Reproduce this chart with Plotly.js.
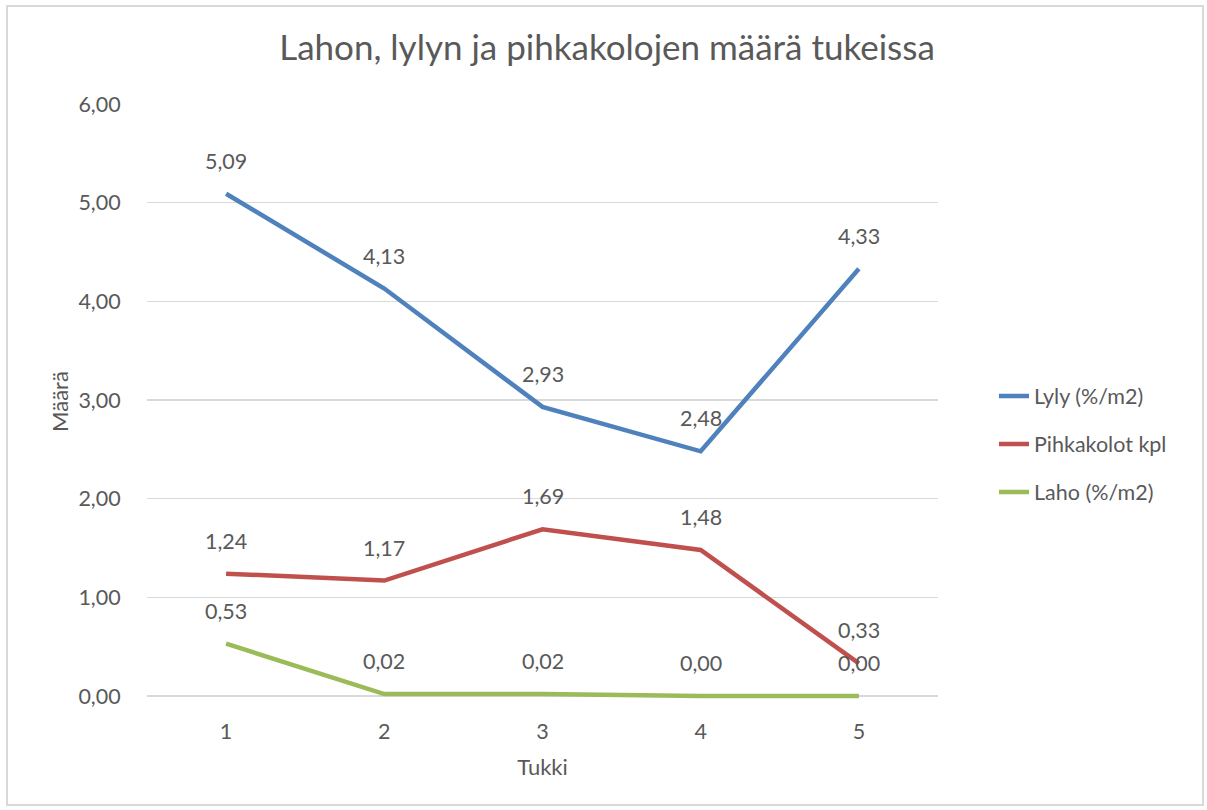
<!DOCTYPE html>
<html>
<head>
<meta charset="utf-8">
<script src="https://cdn.plot.ly/plotly-3.0.1.min.js"></script>
<style>html,body{margin:0;padding:0;background:#fff;}#chart{width:1207px;height:810px;}</style>
</head>
<body>
<div id="chart"></div>
<script>
const categories = ['1', '2', '3', '4', '5'];
const lyly = [5.09, 4.13, 2.93, 2.48, 4.33];
const pihkakolot = [1.24, 1.17, 1.69, 1.48, 0.33];
const laho = [0.53, 0.02, 0.02, 0.00, 0.00];
const seriesNames = ['Lyly (%/m2)', 'Pihkakolot kpl', 'Laho (%/m2)'];
const colors = ['#4F81BD', '#C0504D', '#9BBB59'];
const seriesData = [lyly, pihkakolot, laho];

const FONT = 'Lato, "Open Sans", sans-serif';
const TXT = '#595959';
const FS = 21.5;

const traces = seriesData.map((vals, i) => ({
  type: 'scatter', mode: 'lines', x: categories, y: vals, name: seriesNames[i],
  legendgroup: 'g' + i,
  line: {color: colors[i], width: 4.5}, hoverinfo: 'skip'
}));

const annotations = [];
seriesData.forEach((vals) => {
  vals.forEach((v, j) => {
    annotations.push({
      x: j, y: v, xref: 'x', yref: 'y', text: v.toFixed(2).replace('.', ','),
      showarrow: false, yshift: 33, font: {family: FONT, size: FS, color: TXT}
    });
  });
});

// plot area: top 104, zero line at 696, 6 units over 592 px; 3 px extra below zero so the line at 0 is not clipped
const PB = 111;
const PH = 810 - 104 - PB;
const yMin = -3 / (592 / 6);
const py = (p) => (810 - PB - p) / PH;

const layout = {
  width: 1207, height: 810,
  margin: {l: 147, r: 269, t: 104, b: PB},
  paper_bgcolor: '#fff', plot_bgcolor: '#fff',
  separators: ',.',
  font: {family: FONT, color: TXT, size: FS},
  title: {text: 'Lahon, lylyn ja pihkakolojen määrä tukeissa', x: 607 / 1207, xanchor: 'center', y: 1 - 48 / 810, yanchor: 'middle', font: {family: FONT, size: 35, color: TXT}},
  xaxis: {type: 'category', range: [-0.5, 4.5], showgrid: false, zeroline: false, showline: false,
    ticks: 'outside', ticklen: 13, tickcolor: 'rgba(0,0,0,0)',
    tickfont: {family: FONT, size: FS, color: TXT},
    title: {text: 'Tukki', font: {family: FONT, size: 22, color: TXT}, standoff: 16}},
  yaxis: {range: [yMin, 6], tick0: 0, dtick: 1, tickformat: '.2f', showgrid: true, gridcolor: '#d9d9d9', gridwidth: 1.5,
    zeroline: false, showline: false, ticks: 'outside', ticklen: 21, tickcolor: 'rgba(0,0,0,0)',
    tickfont: {family: FONT, size: FS, color: TXT},
    title: {text: 'Määrä', font: {family: FONT, size: 22, color: TXT}, standoff: 3}},
  legend: {x: 1 + (994 - 938) / 791, xanchor: 'left', y: py(444), yanchor: 'middle',
    font: {family: FONT, size: FS, color: TXT}, traceorder: 'grouped', tracegroupgap: 17,
    bgcolor: 'rgba(0,0,0,0)'},
  annotations: annotations,
  shapes: [{type: 'rect', xref: 'paper', yref: 'paper',
    x0: (7 - 147) / 791, x1: (1203 - 147) / 791, y0: py(805), y1: py(6),
    line: {color: '#d9d9d9', width: 2}, layer: 'below'}],
  showlegend: true
};

Plotly.newPlot('chart', traces, layout, {displayModeBar: false, staticPlot: true});
</script>
</body>
</html>
